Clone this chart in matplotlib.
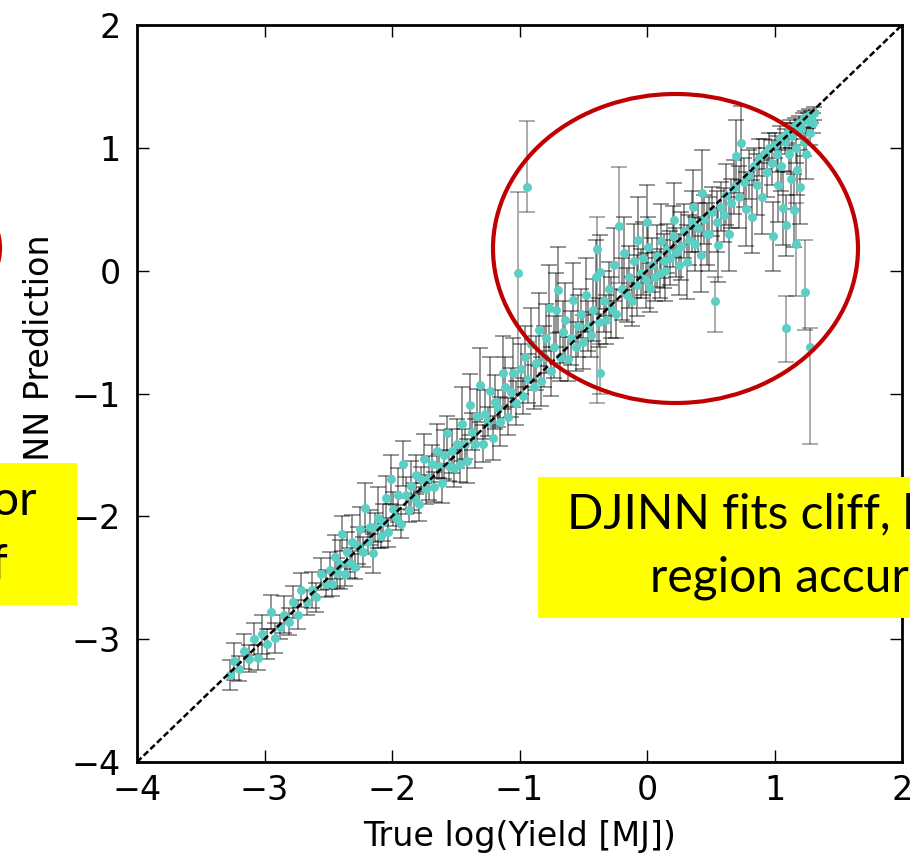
import numpy as np
import matplotlib
matplotlib.use('Agg')
import matplotlib.pyplot as plt
from matplotlib.patches import Rectangle, Ellipse

# figure size in pixels
W, H = 910, 856

# ---- data ----
# low range (-3.3 .. -2.5)
low_x = [-3.27, -3.24, -3.2, -3.16, -3.12, -3.08, -3.05, -3.02, -2.98, -2.95, -2.92,
         -2.88, -2.85, -2.81, -2.78, -2.74, -2.71, -2.67, -2.63, -2.6, -2.56, -2.52]
low_y = [-3.29, -3.18, -3.24, -3.1, -3.16, -3.0, -3.15, -2.96, -3.04, -2.78, -2.99,
         -2.9, -2.8, -2.86, -2.7, -2.8, -2.6, -2.7, -2.6, -2.66, -2.47, -2.55]
low_err = [0.12, 0.15, 0.1, 0.14, 0.11, 0.13, 0.1, 0.16, 0.12, 0.14, 0.12,
           0.1, 0.15, 0.11, 0.13, 0.12, 0.14, 0.1, 0.15, 0.12, 0.13, 0.11]

# middle range (-2.5 .. -1.5)
mid_x = [-2.49, -2.47, -2.45, -2.43, -2.41, -2.39, -2.37, -2.35, -2.33, -2.31,
         -2.29, -2.27, -2.25, -2.23, -2.21, -2.19, -2.17, -2.15, -2.13, -2.11,
         -2.09, -2.07, -2.05, -2.03, -2.01, -1.99, -1.97, -1.95, -1.93, -1.91,
         -1.89, -1.87, -1.85, -1.83, -1.81, -1.79, -1.77, -1.75, -1.73, -1.71,
         -1.69, -1.67, -1.65, -1.63, -1.61, -1.59, -1.57, -1.55, -1.53, -1.51]
mid_y = [-2.44, -2.55, -2.33, -2.46, -2.39, -2.14, -2.47, -2.29, -2.38, -2.21,
         -2.41, -2.24, -2.10, -2.29, -1.93, -2.21, -2.09, -2.30, -2.09, -2.01,
         -2.16, -2.05, -1.85, -2.13, -1.70, -1.94, -2.01, -1.83, -2.06, -1.57,
         -1.83, -1.95, -1.75, -1.85, -1.66, -1.90, -1.70, -1.53, -1.78, -1.69,
         -1.57, -1.76, -1.47, -1.59, -1.73, -1.50, -1.32, -1.59, -1.47, -1.61]
mid_err = [0.15, 0.1, 0.18, 0.12, 0.2, 0.14, 0.1, 0.16, 0.12, 0.22,
           0.1, 0.15, 0.18, 0.12, 0.2, 0.1, 0.14, 0.16, 0.12, 0.25,
           0.1, 0.15, 0.18, 0.12, 0.2, 0.14, 0.1, 0.22, 0.12, 0.18,
           0.15, 0.1, 0.2, 0.12, 0.16, 0.14, 0.1, 0.2, 0.12, 0.18,
           0.15, 0.12, 0.22, 0.1, 0.16, 0.2, 0.14, 0.12, 0.18, 0.15]

# (-1.5 .. -1.0)
up_x = [-1.49, -1.47, -1.45, -1.43, -1.41, -1.39, -1.37, -1.35, -1.33, -1.31, -1.29, -1.27,
        -1.25, -1.23, -1.21, -1.19, -1.17, -1.15, -1.13, -1.11, -1.09, -1.07, -1.05, -1.03]
up_y = [-1.41, -1.57, -1.25, -1.41, -1.55, -1.09, -1.31, -1.41, -1.18, -0.93, -1.41, -1.17,
        -1.23, -0.98, -1.36, -1.07, -1.12, -1.23, -0.83, -0.95, -1.19, -0.99, -0.83, -1.08]
up_err = [0.2, 0.15, 0.3, 0.12, 0.18, 0.25, 0.15, 0.2, 0.22, 0.3, 0.15, 0.2,
          0.12, 0.28, 0.18, 0.22, 0.15, 0.2, 0.3, 0.25, 0.15, 0.2, 0.28, 0.18]

# cliff region (-1.0 .. 0)
cliff_x = [-0.99, -0.97, -0.96, -0.93, -0.91, -0.89, -0.87, -0.85, -0.83, -0.81,
           -0.79, -0.77, -0.75, -0.73, -0.71, -0.70, -0.68, -0.66, -0.64, -0.62,
           -0.60, -0.58, -0.56, -0.54, -0.52, -0.50, -0.48, -0.46, -0.44, -0.42,
           -0.40, -0.38, -0.37, -0.34, -0.32, -0.30, -0.28, -0.26, -0.24, -0.20,
           -0.18, -0.16, -0.14, -0.12, -0.10, -0.08, -0.07, -0.05, -0.03, -0.01]
cliff_y = [-0.80, -1.02, -0.70, -0.88, -0.60, -0.95, -0.75, -0.48, -0.90, -0.70,
           -0.55, -0.30, -0.82, -0.62, -0.32, -0.16, -0.70, -0.50, -0.40, -0.72,
           -0.55, -0.24, -0.62, -0.45, -0.35, -0.58, -0.20, -0.45, -0.52, -0.32,
           -0.05, -0.42, -0.01, -0.25, -0.40, -0.15, -0.30, 0.05, -0.35, -0.15,
           0.14, -0.20, -0.05, -0.25, 0.08, -0.12, 0.25, -0.02, 0.10, -0.08]
cliff_err = [0.2, 0.15, 0.25, 0.2, 0.3, 0.18, 0.22, 0.3, 0.2, 0.25,
             0.28, 0.35, 0.2, 0.25, 0.3, 0.35, 0.2, 0.25, 0.3, 0.18,
             0.22, 0.3, 0.2, 0.25, 0.2, 0.22, 0.3, 0.2, 0.18, 0.25,
             0.3, 0.2, 0.3, 0.25, 0.2, 0.22, 0.25, 0.3, 0.2, 0.25,
             0.3, 0.22, 0.25, 0.2, 0.3, 0.25, 0.35, 0.2, 0.3, 0.22]

# (0 .. 0.8)
hi_x = [0.00, 0.01, 0.02, 0.04, 0.06, 0.08, 0.10, 0.11, 0.13, 0.14, 0.16, 0.18,
        0.20, 0.21, 0.23, 0.25, 0.27, 0.29, 0.31, 0.33, 0.35, 0.36, 0.38, 0.40,
        0.42, 0.43, 0.45, 0.47, 0.49, 0.51, 0.55, 0.56, 0.58, 0.60, 0.62, 0.64,
        0.66, 0.68, 0.70, 0.72, 0.74, 0.76, 0.78]
hi_y = [0.40, 0.19, -0.14, 0.05, -0.05, 0.12, -0.02, 0.24, 0.08, 0.00, 0.18, 0.10,
        0.28, 0.41, 0.15, 0.05, 0.20, 0.32, 0.07, 0.25, 0.40, 0.52, 0.22, 0.35,
        0.13, 0.63, 0.42, 0.30, 0.30, 0.48, 0.40, 0.21, 0.52, 0.45, 0.62, 0.30,
        0.55, 0.68, 0.93, 0.60, 1.04, 0.72, 0.50]
hi_err = [0.3, 0.25, 0.2, 0.22, 0.2, 0.25, 0.2, 0.3, 0.22, 0.25, 0.2, 0.22,
          0.25, 0.3, 0.2, 0.25, 0.28, 0.22, 0.3, 0.2, 0.25, 0.3, 0.22, 0.2,
          0.3, 0.35, 0.2, 0.25, 0.3, 0.2, 0.25, 0.3, 0.2, 0.22, 0.25, 0.3,
          0.2, 0.22, 0.3, 0.25, 0.3, 0.2, 0.3]

# top end (0.8 .. 1.31)
top_x = [0.80, 0.82, 0.84, 0.86, 0.88, 0.90, 0.92, 0.94, 0.96, 0.98, 0.99, 1.00,
         1.02, 1.03, 1.04, 1.05, 1.07, 1.08, 1.09, 1.10, 1.11, 1.12, 1.13, 1.14,
         1.15, 1.16, 1.17, 1.18, 1.19, 1.20, 1.21, 1.22, 1.23, 1.24, 1.25, 1.26,
         1.27, 1.28, 1.29, 1.30, 1.31]
top_y = [0.78, 0.44, 0.85, 0.70, 0.92, 0.60, 0.95, 0.80, 1.00, 0.88, 0.28, 1.02,
         0.95, 0.70, 1.08, 0.85, 0.51, 1.05, 0.37, 1.12, 0.95, 1.15, 0.75, 1.10,
         0.49, 1.18, 1.00, 0.82, 1.20, 0.68, 1.15, 1.22, 1.05, 1.25, 0.95, 1.22,
         1.27, 1.12, 1.25, 1.20, 1.28]
top_err = [0.2, 0.3, 0.15, 0.25, 0.15, 0.3, 0.12, 0.2, 0.12, 0.18, 0.28, 0.1,
           0.15, 0.3, 0.1, 0.2, 0.3, 0.1, 0.25, 0.08, 0.15, 0.08, 0.25, 0.1,
           0.3, 0.06, 0.12, 0.2, 0.06, 0.3, 0.08, 0.06, 0.12, 0.05, 0.2, 0.06,
           0.05, 0.1, 0.05, 0.08, 0.05]

# outliers with uneven bars: point, bar bottom, bar top
out_x = [-0.94, -1.01, -0.39, -0.37, -0.22, 0.53, 1.09, 1.28, 1.24, 1.17]
out_y = [0.68, -0.02, 0.18, -0.83, 0.36, -0.25, -0.47, -0.62, -0.17, 0.22]
out_lo = [0.48, -1.00, -1.08, -1.00, -0.10, -0.50, -0.74, -1.41, -0.48, -0.21]
out_hi = [1.22, 0.64, 0.44, -0.60, 0.84, -0.05, -0.21, -0.47, 0.25, 0.55]

ticks = [-4, -3, -2, -1, 0, 1, 2]

x = np.concatenate([low_x, mid_x, up_x, cliff_x, hi_x, top_x])
y = np.concatenate([low_y, mid_y, up_y, cliff_y, hi_y, top_y])
err = np.concatenate([low_err, mid_err, up_err, cliff_err, hi_err, top_err])
ox = np.array(out_x)
oy = np.array(out_y)
oerr = [oy - np.array(out_lo), np.array(out_hi) - oy]

fig = plt.figure(figsize=(W / 100, H / 100), dpi=100)
ax = fig.add_axes([137 / W, 1 - 762 / H, 765 / W, 737 / H])

ax.errorbar(x, y, yerr=err, fmt='none', ecolor='k', elinewidth=1.3,
            capsize=6, capthick=1.3, alpha=0.45, zorder=2)
ax.errorbar(ox, oy, yerr=oerr, fmt='none', ecolor='k', elinewidth=1.3,
            capsize=6, capthick=1.3, alpha=0.35, zorder=2)
ax.plot(x, y, 'o', color='#5ccfc4', ms=6.5, mec='none', zorder=3)
ax.plot(ox, oy, 'o', color='#5ccfc4', ms=6.5, mec='none', zorder=3)
ax.plot([ticks[0], ticks[-1]], [ticks[0], ticks[-1]], color='k',
        ls=(0, (2.5, 1.2)), lw=1.8, zorder=4)

ax.set_xlim(-4, 2)
ax.set_ylim(-4, 2)
ax.set_xticks(ticks)
ax.set_yticks(ticks)
for s in ax.spines.values():
    s.set_linewidth(2)
ax.tick_params(direction='in', top=True, right=True, length=8.5, width=1.0,
               labelsize=24)
ax.tick_params(axis='y', pad=11.5)
ax.tick_params(axis='x', pad=9)
ax.set_xlabel('True log(Yield [MJ])', fontsize=24, labelpad=9)

# y label partly hidden by the yellow box
fig.text(40 / W, 1 - 370 / H, 'DJINN Prediction', rotation=90, fontsize=24,
         ha='center', va='center', zorder=3)

# red ellipse around the upper region
fig.add_artist(Ellipse((675.5 / W, 1 - 248.5 / H), 365 / W, 309 / H,
                       transform=fig.transFigure, fill=False,
                       edgecolor='#C00000', lw=3, zorder=6))
# sliver of a neighbouring ellipse on the left edge
fig.add_artist(Ellipse((-180 / W, 1 - 248 / H), 360 / W, 200 / H,
                       transform=fig.transFigure, fill=False,
                       edgecolor='#C00000', lw=3, zorder=6))

# yellow note boxes
fig.add_artist(Rectangle((0, 1 - 605 / H), 77 / W, 142 / H,
                         transform=fig.transFigure, facecolor='#FFFF00',
                         edgecolor='none', zorder=4))
fig.add_artist(Rectangle((538 / W, 1 - 618 / H), 380 / W, 141 / H,
                         transform=fig.transFigure, facecolor='#FFFF00',
                         edgecolor='none', zorder=4))

note_font = ['Lato', 'DejaVu Sans']
fig.text(37 / W, 1 - 515 / H, 'or', fontsize=34.5, family=note_font,
         ha='right', va='baseline', zorder=5)
fig.text(8 / W, 1 - 579 / H, 'f', fontsize=34.5, family=note_font,
         ha='right', va='baseline', zorder=5)
fig.text(567 / W, 1 - 528 / H, 'DJINN fits cliff, h', fontsize=34.5,
         family=note_font, ha='left', va='baseline', zorder=5)
fig.text(650 / W, 1 - 592 / H, 'region accur', fontsize=34.5,
         family=note_font, ha='left', va='baseline', zorder=5)

fig.savefig('out.png', dpi=100)
